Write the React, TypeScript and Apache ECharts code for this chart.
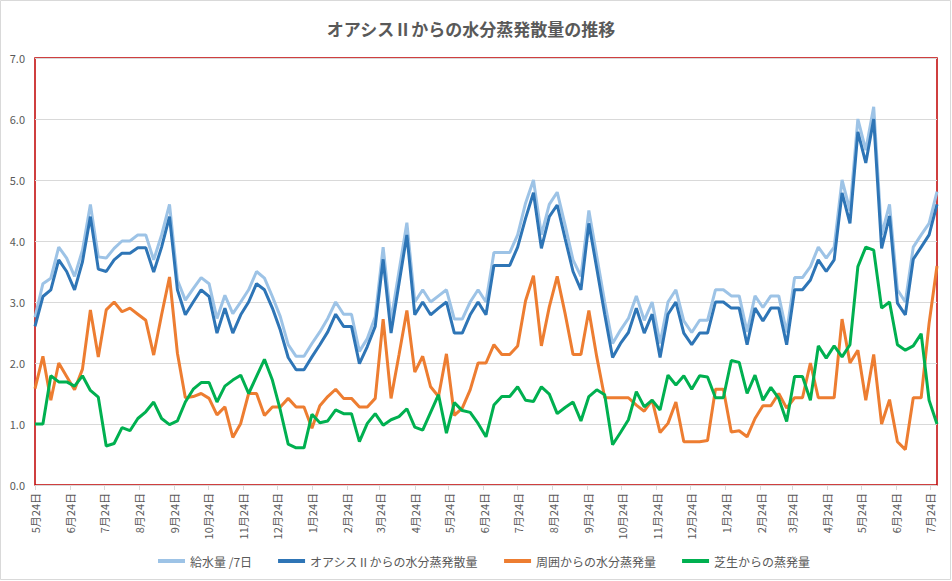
import React, { useEffect, useRef } from "react";
import * as echarts from "echarts";

const TITLE = "オアシスⅡからの水分蒸発散量の推移";
const SERIES_NAMES = ["給水量 /7日", "オアシスⅡからの水分蒸発散量", "周囲からの水分蒸発量", "芝生からの蒸発量"];
const COLORS = ["#9DC3E6", "#2E75B6", "#ED7D31", "#00B050"];

// first measurement date and weekly step (days)
const START_YEAR = 2015;
const START_MONTH = 5; // May
const START_DAY = 24;
const STEP_DAYS = 7;
// axis tick labels: the 24th of each month from 2015-05 to 2017-07
const TICK_COUNT = 27;

const supply = [
  2.75, 3.3, 3.39, 3.9, 3.72, 3.42, 3.85, 4.6, 3.74, 3.72,
  3.88, 4.0, 4.0, 4.1, 4.1, 3.69, 4.1, 4.6, 3.36, 3.03,
  3.22, 3.4, 3.3, 2.73, 3.11, 2.81, 3.0, 3.2, 3.5, 3.39,
  3.09, 2.76, 2.3, 2.11, 2.11, 2.32, 2.51, 2.73, 3.0, 2.8,
  2.8, 2.19, 2.4, 2.76, 3.9, 2.7, 3.5, 4.3, 3.0, 3.2,
  3.0, 3.1, 3.2, 2.72, 2.72, 3.0, 3.2, 3.0, 3.81, 3.81,
  3.81, 4.1, 4.62, 5.0, 4.1, 4.6, 4.8, 4.26, 3.69, 3.42,
  4.5, 3.75, 3.0, 2.32, 2.54, 2.73, 3.1, 2.7, 3.0, 2.32,
  3.0, 3.2, 2.69, 2.5, 2.7, 2.7, 3.2, 3.2, 3.1, 3.1,
  2.51, 3.1, 2.91, 3.1, 3.1, 2.5, 3.4, 3.4, 3.58, 3.9,
  3.72, 3.9, 5.0, 4.5, 6.0, 5.49, 6.2, 4.1, 4.6, 3.2,
  3.0, 3.9, 4.1, 4.29, 4.81,
];

const oasis = [
  2.6, 3.09, 3.2, 3.69, 3.5, 3.2, 3.66, 4.4, 3.54, 3.5,
  3.69, 3.8, 3.8, 3.89, 3.89, 3.49, 3.9, 4.4, 3.2, 2.79,
  3.0, 3.2, 3.09, 2.49, 2.9, 2.49, 2.79, 3.0, 3.3, 3.2,
  2.9, 2.54, 2.09, 1.89, 1.89, 2.1, 2.3, 2.51, 2.8, 2.6,
  2.6, 1.99, 2.27, 2.6, 3.7, 2.49, 3.3, 4.1, 2.79, 3.0,
  2.79, 2.9, 3.0, 2.49, 2.49, 2.79, 3.0, 2.79, 3.6, 3.6,
  3.6, 3.9, 4.37, 4.79, 3.88, 4.4, 4.59, 4.04, 3.5, 3.2,
  4.29, 3.55, 2.8, 2.09, 2.32, 2.5, 2.9, 2.49, 2.8, 2.09,
  2.8, 3.0, 2.49, 2.3, 2.49, 2.49, 3.0, 3.0, 2.9, 2.9,
  2.3, 2.9, 2.69, 2.9, 2.9, 2.3, 3.2, 3.2, 3.36, 3.69,
  3.5, 3.69, 4.79, 4.29, 5.79, 5.28, 6.0, 3.88, 4.41, 2.98,
  2.79, 3.7, 3.9, 4.1, 4.6,
];

const surroundings = [
  1.58, 2.11, 1.39, 2.0, 1.78, 1.56, 1.9, 2.87, 2.1, 2.87,
  3.0, 2.84, 2.9, 2.8, 2.7, 2.13, 2.79, 3.41, 2.16, 1.43,
  1.45, 1.5, 1.42, 1.15, 1.28, 0.78, 1.01, 1.5, 1.5, 1.14,
  1.28, 1.28, 1.42, 1.28, 1.28, 0.93, 1.3, 1.45, 1.57, 1.42,
  1.42, 1.28, 1.28, 1.42, 2.72, 1.42, 2.13, 2.86, 1.85, 2.11,
  1.61, 1.45, 2.15, 1.14, 1.26, 1.56, 2.0, 2.0, 2.3, 2.14,
  2.14, 2.28, 3.02, 3.43, 2.28, 2.92, 3.42, 2.81, 2.14, 2.14,
  2.86, 2.1, 1.43, 1.43, 1.43, 1.43, 1.31, 1.21, 1.39, 0.86,
  1.01, 1.36, 0.71, 0.71, 0.71, 0.73, 1.57, 1.57, 0.87, 0.89,
  0.79, 1.09, 1.3, 1.3, 1.5, 1.26, 1.43, 1.43, 2.0, 1.43,
  1.43, 1.43, 2.72, 2.0, 2.21, 1.39, 2.14, 1.0, 1.4, 0.71,
  0.58, 1.43, 1.43, 2.65, 3.59,
];

const lawn = [
  1.0, 1.0, 1.79, 1.69, 1.69, 1.62, 1.79, 1.55, 1.44, 0.64,
  0.68, 0.94, 0.89, 1.09, 1.2, 1.36, 1.09, 0.99, 1.05, 1.36,
  1.57, 1.68, 1.68, 1.36, 1.62, 1.72, 1.8, 1.5, 1.78, 2.06,
  1.72, 1.23, 0.67, 0.61, 0.61, 1.16, 1.02, 1.05, 1.23, 1.17,
  1.17, 0.71, 1.01, 1.17, 0.98, 1.07, 1.12, 1.25, 0.95, 0.9,
  1.19, 1.48, 0.85, 1.35, 1.22, 1.19, 1.01, 0.79, 1.31, 1.45,
  1.45, 1.61, 1.39, 1.37, 1.61, 1.49, 1.17, 1.27, 1.36, 1.05,
  1.45, 1.56, 1.48, 0.66, 0.86, 1.07, 1.53, 1.28, 1.39, 1.23,
  1.8, 1.64, 1.79, 1.57, 1.79, 1.77, 1.43, 1.43, 2.04, 2.01,
  1.5, 1.8, 1.39, 1.6, 1.42, 1.04, 1.78, 1.78, 1.39, 2.28,
  2.08, 2.28, 2.1, 2.3, 3.58, 3.9, 3.85, 2.9, 3.0, 2.3,
  2.21, 2.28, 2.48, 1.39, 1.0,
];

const VALUES = [supply, oasis, surroundings, lawn];

const FONT = "'Noto Sans CJK JP', 'Noto Sans', sans-serif";
const TEXT_COLOR = "#595959";
const DAY_MS = 86400000;

export default function App() {
  const ref = useRef<HTMLDivElement>(null);

  useEffect(() => {
    if (!ref.current) return;
    const chart = echarts.init(ref.current, undefined, { renderer: "svg" });

    const t0 = Date.UTC(START_YEAR, START_MONTH - 1, START_DAY);
    // day offsets of each weekly measurement
    const days = supply.map((_, i) => i * STEP_DAYS);
    // day offsets of the 24th of each month
    const ticks: number[] = [];
    for (let k = 0; k < TICK_COUNT; k++) {
      ticks.push(Math.round((Date.UTC(START_YEAR, START_MONTH - 1 + k, START_DAY) - t0) / DAY_MS));
    }
    const monthOf = (d: number) => new Date(t0 + d * DAY_MS).getUTCMonth() + 1;

    const option: any = {
      animation: false,
      backgroundColor: "#ffffff",
      textStyle: { fontFamily: FONT },
      title: {
        text: TITLE,
        left: 466,
        textAlign: "center",
        top: 15,
        textStyle: { fontSize: 17, fontWeight: "bold", color: TEXT_COLOR, fontFamily: FONT },
      },
      grid: {
        left: 35,
        right: 15,
        top: 58,
        bottom: 96,
        show: true,
        borderColor: "#C00000",
        borderWidth: 1.5,
        containLabel: false,
        outerBoundsMode: "none",
      },
      legend: {
        data: SERIES_NAMES,
        left: 153,
        top: 550,
        icon: "rect",
        itemWidth: 27,
        itemHeight: 4,
        itemGap: 26,
        textStyle: { fontSize: 12, color: TEXT_COLOR, fontFamily: FONT },
      },
      xAxis: {
        type: "value",
        min: days[0],
        max: days[days.length - 1],
        axisLine: { show: true, onZero: false, lineStyle: { color: "#D9D9D9", width: 1 } },
        axisTick: { show: true, customValues: ticks, length: 5, lineStyle: { color: "#D9D9D9" } },
        axisLabel: {
          customValues: ticks,
          rotate: 90,
          margin: 8,
          fontSize: 11,
          color: TEXT_COLOR,
          fontFamily: FONT,
          formatter: (v: number) => `${monthOf(v)}月24日`,
        },
        splitLine: { show: false },
      },
      yAxis: {
        type: "value",
        min: 0,
        max: 7,
        interval: 1,
        axisLine: { show: false },
        axisTick: { show: false },
        axisLabel: {
          fontSize: 11,
          color: TEXT_COLOR,
          margin: 10,
          fontFamily: FONT,
          formatter: (v: number) => v.toFixed(1),
        },
        splitLine: { show: true, lineStyle: { color: "#D9D9D9", width: 1 } },
      },
      series: SERIES_NAMES.map((name, s) => ({
        name,
        type: "line",
        symbol: "none",
        color: COLORS[s],
        lineStyle: { color: COLORS[s], width: 3 },
        data: VALUES[s].map((v, i) => [days[i], v]),
      })),
      graphic: [
        {
          type: "rect",
          shape: { x: 0.5, y: 0.5, width: 950, height: 579 },
          style: { fill: "none", stroke: "#D9D9D9", lineWidth: 1 },
          silent: true,
        },
      ],
    };

    chart.setOption(option);
    return () => chart.dispose();
  }, []);

  return (
    <div
      ref={ref}
      style={{ position: "fixed", left: 0, top: 0, width: 952, height: 581 }}
    />
  );
}
